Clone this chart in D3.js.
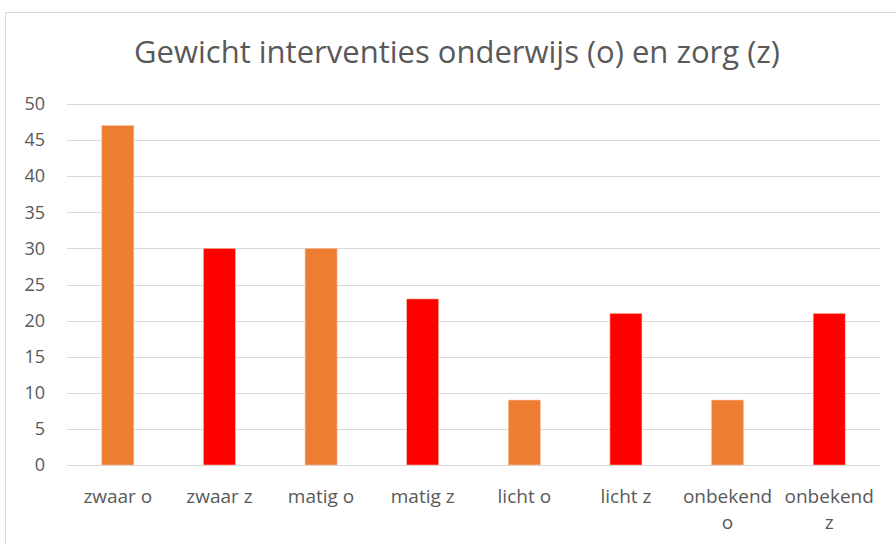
<!DOCTYPE html>
<html>
<head>
<meta charset="utf-8">
<script src="https://cdn.jsdelivr.net/npm/d3@7"></script>
<style>
  body { margin: 0; background: #fff; }
  svg { display: block; }
</style>
</head>
<body>
<script>
var categories = ["zwaar o", "zwaar z", "matig o", "matig z", "licht o", "licht z", "onbekend o", "onbekend z"];
var values = [47, 30, 30, 23, 9, 21, 9, 21];
var groups = ["o", "z", "o", "z", "o", "z", "o", "z"];
var yTicks = [0, 5, 10, 15, 20, 25, 30, 35, 40, 45, 50];
var title = "Gewicht interventies onderwijs (o) en zorg (z)";

var canvasWidth = 896, canvasHeight = 544;
var margin = {top: 104, left: 67, right: 16, bottom: 79};
var width = canvasWidth - margin.left - margin.right;
var height = canvasHeight - margin.top - margin.bottom;
var fontFam = "'Open Sans', sans-serif";

var svg = d3.select("body").append("svg")
    .attr("width", canvasWidth)
    .attr("height", canvasHeight);

// chart frame
svg.append("rect")
    .attr("x", 5.5).attr("y", 12.5)
    .attr("width", 900).attr("height", 560)
    .attr("fill", "none")
    .attr("stroke", "#d9d9d9");

svg.append("text")
    .attr("x", 457).attr("y", 63)
    .attr("text-anchor", "middle")
    .attr("font-family", fontFam)
    .attr("font-size", 31)
    .attr("fill", "#595959")
    .text(title);

var g = svg.append("g")
    .attr("transform", "translate(" + margin.left + "," + margin.top + ")");

var x = d3.scaleBand().domain(categories).range([0, width]).paddingInner(0.685).paddingOuter(0.3425);
var y = d3.scaleLinear().domain([0, 50]).range([height, 0]);
var color = d3.scaleOrdinal().domain(["o", "z"]).range(["#ED7D31", "#FF0000"]);

// gridlines
g.selectAll(".grid").data(yTicks).enter().append("line")
    .attr("x1", 0).attr("x2", width)
    .attr("y1", function(d) { return Math.round(y(d)) + 0.5; })
    .attr("y2", function(d) { return Math.round(y(d)) + 0.5; })
    .attr("stroke", "#d9d9d9")
    .attr("stroke-width", 1);

// y labels
var yAxis = g.append("g")
    .call(d3.axisLeft(y).tickValues(yTicks).tickSize(0).tickPadding(22));
yAxis.select(".domain").remove();
yAxis.selectAll("text")
    .attr("font-family", fontFam)
    .attr("font-size", 18)
    .attr("fill", "#595959");

// bars
g.selectAll(".bar").data(categories).enter().append("rect")
    .attr("x", function(d) { return x(d); })
    .attr("y", function(d, i) { return y(values[i]); })
    .attr("width", x.bandwidth())
    .attr("height", function(d, i) { return height - y(values[i]); })
    .attr("fill", function(d, i) { return color(groups[i]); })
    .attr("stroke", "#f8c0a0")
    .attr("stroke-width", 0.6);

// x labels (wrap long names)
var xl = g.selectAll(".xl").data(categories).enter().append("text")
    .attr("text-anchor", "middle")
    .attr("font-family", fontFam)
    .attr("font-size", 19)
    .attr("fill", "#595959")
    .attr("transform", function(d) { return "translate(" + (x(d) + x.bandwidth() / 2) + "," + (height + 38) + ")"; });
xl.each(function(d) {
  var t = d3.select(this);
  var parts = d.indexOf("onbekend") === 0 ? d.split(" ") : [d];
  parts.forEach(function(p, k) {
    t.append("tspan").attr("x", 0).attr("dy", k === 0 ? 0 : 26).text(p);
  });
});
</script>
</body>
</html>
